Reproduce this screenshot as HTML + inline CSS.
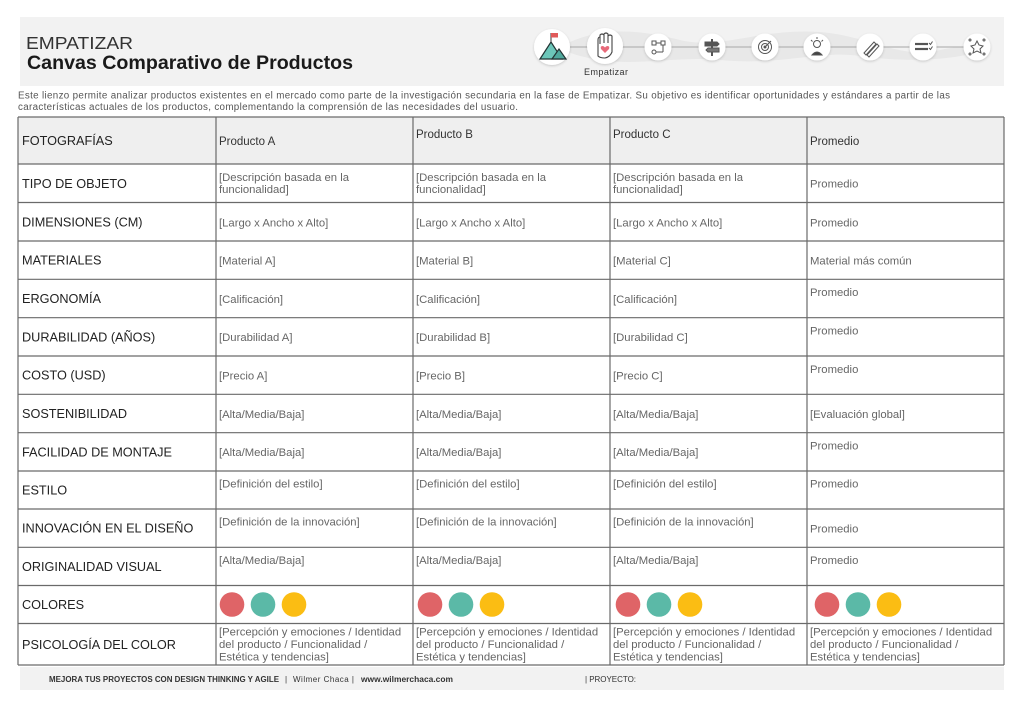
<!DOCTYPE html>
<html><head><meta charset="utf-8"><style>
html,body{margin:0;padding:0;background:#fff;}
svg{display:block;}
.lbl{font-family:"Liberation Sans",sans-serif;font-size:12.7px;fill:#222;}
.c{font-family:"Liberation Sans",sans-serif;font-size:11.3px;fill:#666;}
.h{font-family:"Liberation Sans",sans-serif;font-size:11.5px;fill:#333;}
</style></head><body>
<svg width="1024" height="707" viewBox="0 0 1024 707" xmlns="http://www.w3.org/2000/svg">
<defs>
<filter id="sh" x="-30%" y="-30%" width="160%" height="160%"><feDropShadow dx="0" dy="1" stdDeviation="1.2" flood-color="#000" flood-opacity="0.18"/></filter>
</defs>
<rect width="1024" height="707" fill="#fff"/>
<!-- header band -->
<rect x="20" y="17" width="984" height="69" fill="#f2f2f2"/>
<path d="M560 47 C600 25 640 30 680 40 C720 50 760 28 820 32 C870 36 900 60 940 50 C960 45 980 47 990 47 C960 62 900 62 860 56 C820 50 780 66 720 60 C680 56 640 66 600 60 C580 57 565 52 560 47 Z" fill="#e8e8e8"/>
<text x="26" y="49" font-family="Liberation Sans, sans-serif" font-size="17.5" fill="#333" textLength="107" lengthAdjust="spacingAndGlyphs">EMPATIZAR</text>
<text x="27" y="69" font-family="Liberation Sans, sans-serif" font-size="19.5" font-weight="bold" fill="#1a1a1a" textLength="326" lengthAdjust="spacingAndGlyphs">Canvas Comparativo de Productos</text>
<!-- icons line -->
<line x1="552" y1="47" x2="977" y2="47" stroke="#b5b5b5" stroke-width="1.3"/>
<g filter="url(#sh)" fill="#fff">
<circle cx="552" cy="47" r="18"/><circle cx="605" cy="46" r="18"/>
<circle cx="658" cy="47" r="13.5"/><circle cx="712" cy="47" r="13.5"/><circle cx="765" cy="47" r="13.5"/>
<circle cx="817" cy="47" r="13.5"/><circle cx="870" cy="47" r="13.5"/><circle cx="923" cy="47" r="13.5"/><circle cx="977" cy="47" r="13.5"/>
</g>
<!-- mountain -->
<polygon points="540,59 551,42 562,59" fill="#6cc6b9" stroke="#233" stroke-width="1.2"/>
<polygon points="552,59 559,49 566,59" fill="#4fa89c" stroke="#233" stroke-width="1.2"/>
<line x1="551" y1="42" x2="551" y2="33" stroke="#333" stroke-width="1"/>
<rect x="551" y="33" width="7" height="4.5" fill="#e05a5a"/>
<!-- hand -->
<path d="M598 56 L598 40 Q598 37 600 37 L600 44 L600 35 Q602 33 604 35 L604 43 L604 34 Q606 32 608 34 L608 43 L608 36 Q610 34 612 36 L612 52 Q610 57 605 58 Q600 58 598 56 Z" fill="#fff" stroke="#444" stroke-width="1.1"/>
<path d="M605 53 L601 49 Q600 46 602.5 46 Q604 46 605 47.5 Q606 46 607.5 46 Q610 46 609 49 Z" fill="#e86a7a"/>
<text x="584" y="75" font-family="Liberation Sans, sans-serif" font-size="9" fill="#333" textLength="44">Empatizar</text>
<!-- small icons -->
<g stroke="#555" stroke-width="1" fill="none">
<rect x="652" y="41" width="4" height="4"/><rect x="661" y="41" width="4" height="4"/><circle cx="654" cy="52" r="2"/><line x1="656" y1="43" x2="661" y2="43"/><line x1="663" y1="45" x2="663" y2="52"/><line x1="656" y1="52" x2="663" y2="52"/>
<line x1="712" y1="39" x2="712" y2="56" stroke-width="2"/><path d="M705 42 h12 l2 2 l-2 2 h-12 z" fill="#555"/><path d="M719 48 h-11 l-2 2 l2 2 h11 z" fill="#777"/>
<circle cx="765" cy="47" r="6.5"/><circle cx="765" cy="47" r="3.5"/><circle cx="765" cy="47" r="1" fill="#555"/><line x1="766" y1="46" x2="771" y2="41"/>
<circle cx="817" cy="44" r="3.5"/><path d="M812 55 q5 -6 10 0 z" fill="#444"/><line x1="817" y1="37" x2="817" y2="39"/><line x1="811" y1="40" x2="812.5" y2="41.5"/><line x1="823" y1="40" x2="821.5" y2="41.5"/>
<path d="M864 53 l10 -11 l2 2 l-10 11 z"/><path d="M867 55 l10 -11 l2 2 l-10 11 z"/>
<line x1="915" y1="44" x2="928" y2="44" stroke-width="2.2"/><line x1="915" y1="49" x2="928" y2="49" stroke-width="2.2"/><path d="M929 43 l1.5 1.5 l2 -3 M929 48 l1.5 1.5 l2 -3"/>
<path d="M977 41 l2 4 l4 1 l-3 3 l1 4 l-4 -2 l-4 2 l1 -4 l-3 -3 l4 -1 z"/><circle cx="970" cy="40" r="1"/><circle cx="984" cy="40" r="1"/><circle cx="970" cy="54" r="1"/><circle cx="984" cy="54" r="1"/>
</g>
<!-- description -->
<text x="18" y="98.5" font-family="Liberation Sans, sans-serif" font-size="9.8" fill="#555" textLength="932">Este lienzo permite analizar productos existentes en el mercado como parte de la investigación secundaria en la fase de Empatizar. Su objetivo es identificar oportunidades y estándares a partir de las</text>
<text x="18" y="110" font-family="Liberation Sans, sans-serif" font-size="9.8" fill="#555" textLength="500">características actuales de los productos, complementando la comprensión de las necesidades del usuario.</text>
<!-- table -->
<rect x="18" y="117" width="986" height="47" fill="#efefef"/>
<g stroke="#6a6a6a" stroke-width="1.2">
<line x1="18" y1="117" x2="1004" y2="117"/>
<line x1="18" y1="164" x2="1004" y2="164"/>
<line x1="18" y1="202.5" x2="1004" y2="202.5"/>
<line x1="18" y1="241" x2="1004" y2="241"/>
<line x1="18" y1="279.3" x2="1004" y2="279.3"/>
<line x1="18" y1="317.7" x2="1004" y2="317.7"/>
<line x1="18" y1="356" x2="1004" y2="356"/>
<line x1="18" y1="394.3" x2="1004" y2="394.3"/>
<line x1="18" y1="432.7" x2="1004" y2="432.7"/>
<line x1="18" y1="471" x2="1004" y2="471"/>
<line x1="18" y1="509" x2="1004" y2="509"/>
<line x1="18" y1="547.3" x2="1004" y2="547.3"/>
<line x1="18" y1="585.5" x2="1004" y2="585.5"/>
<line x1="18" y1="623.5" x2="1004" y2="623.5"/>
<line x1="18" y1="665" x2="1004" y2="665"/>
<line x1="18" y1="117" x2="18" y2="665"/>
<line x1="216" y1="117" x2="216" y2="665"/>
<line x1="413" y1="117" x2="413" y2="665"/>
<line x1="610" y1="117" x2="610" y2="665"/>
<line x1="807" y1="117" x2="807" y2="665"/>
<line x1="1004" y1="117" x2="1004" y2="665"/>
</g>
<!-- labels -->
<text class="lbl" x="22" y="145">FOTOGRAFÍAS</text>
<text class="lbl" x="22" y="188">TIPO DE OBJETO</text>
<text class="lbl" x="22" y="226.5">DIMENSIONES (CM)</text>
<text class="lbl" x="22" y="264.7">MATERIALES</text>
<text class="lbl" x="22" y="303">ERGONOMÍA</text>
<text class="lbl" x="22" y="341.3">DURABILIDAD (AÑOS)</text>
<text class="lbl" x="22" y="379.7">COSTO (USD)</text>
<text class="lbl" x="22" y="418">SOSTENIBILIDAD</text>
<text class="lbl" x="22" y="456.3">FACILIDAD DE MONTAJE</text>
<text class="lbl" x="22" y="494.5">ESTILO</text>
<text class="lbl" x="22" y="532.7">INNOVACIÓN EN EL DISEÑO</text>
<text class="lbl" x="22" y="571">ORIGINALIDAD VISUAL</text>
<text class="lbl" x="22" y="609">COLORES</text>
<text class="lbl" x="22" y="649">PSICOLOGÍA DEL COLOR</text>
<!-- header cells -->
<text class="h" x="219" y="145">Producto A</text>
<text class="h" x="416" y="138">Producto B</text>
<text class="h" x="613" y="138">Producto C</text>
<text class="h" x="810" y="145">Promedio</text>
<!-- TIPO -->
<g class="c">
<text class="c" x="219" y="181">[Descripción basada en la</text><text class="c" x="219" y="193">funcionalidad]</text>
<text class="c" x="416" y="181">[Descripción basada en la</text><text class="c" x="416" y="193">funcionalidad]</text>
<text class="c" x="613" y="181">[Descripción basada en la</text><text class="c" x="613" y="193">funcionalidad]</text>
<text class="c" x="810" y="187.5">Promedio</text>
<!-- DIM -->
<text class="c" x="219" y="226.3">[Largo x Ancho x Alto]</text>
<text class="c" x="416" y="226.3">[Largo x Ancho x Alto]</text>
<text class="c" x="613" y="226.3">[Largo x Ancho x Alto]</text>
<text class="c" x="810" y="226.3">Promedio</text>
<!-- MAT -->
<text class="c" x="219" y="264.6">[Material A]</text>
<text class="c" x="416" y="264.6">[Material B]</text>
<text class="c" x="613" y="264.6">[Material C]</text>
<text class="c" x="810" y="264.6">Material más común</text>
<!-- ERG -->
<text class="c" x="219" y="302.8">[Calificación]</text>
<text class="c" x="416" y="302.8">[Calificación]</text>
<text class="c" x="613" y="302.8">[Calificación]</text>
<text class="c" x="810" y="296">Promedio</text>
<!-- DUR -->
<text class="c" x="219" y="341.2">[Durabilidad A]</text>
<text class="c" x="416" y="341.2">[Durabilidad B]</text>
<text class="c" x="613" y="341.2">[Durabilidad C]</text>
<text class="c" x="810" y="334.4">Promedio</text>
<!-- COSTO -->
<text class="c" x="219" y="379.5">[Precio A]</text>
<text class="c" x="416" y="379.5">[Precio B]</text>
<text class="c" x="613" y="379.5">[Precio C]</text>
<text class="c" x="810" y="372.8">Promedio</text>
<!-- SOST -->
<text class="c" x="219" y="417.8">[Alta/Media/Baja]</text>
<text class="c" x="416" y="417.8">[Alta/Media/Baja]</text>
<text class="c" x="613" y="417.8">[Alta/Media/Baja]</text>
<text class="c" x="810" y="417.8">[Evaluación global]</text>
<!-- FACIL -->
<text class="c" x="219" y="456.2">[Alta/Media/Baja]</text>
<text class="c" x="416" y="456.2">[Alta/Media/Baja]</text>
<text class="c" x="613" y="456.2">[Alta/Media/Baja]</text>
<text class="c" x="810" y="449.4">Promedio</text>
<!-- ESTILO -->
<text class="c" x="219" y="487.6">[Definición del estilo]</text>
<text class="c" x="416" y="487.6">[Definición del estilo]</text>
<text class="c" x="613" y="487.6">[Definición del estilo]</text>
<text class="c" x="810" y="487.6">Promedio</text>
<!-- INNOV -->
<text class="c" x="219" y="525.7">[Definición de la innovación]</text>
<text class="c" x="416" y="525.7">[Definición de la innovación]</text>
<text class="c" x="613" y="525.7">[Definición de la innovación]</text>
<text class="c" x="810" y="532.5">Promedio</text>
<!-- ORIG -->
<text class="c" x="219" y="564">[Alta/Media/Baja]</text>
<text class="c" x="416" y="564">[Alta/Media/Baja]</text>
<text class="c" x="613" y="564">[Alta/Media/Baja]</text>
<text class="c" x="810" y="564">Promedio</text>
<!-- PSICO -->
<text class="c" x="219" y="635.5">[Percepción y emociones / Identidad</text><text class="c" x="219" y="648">del producto / Funcionalidad /</text><text class="c" x="219" y="660.5">Estética y tendencias]</text>
<text class="c" x="416" y="635.5">[Percepción y emociones / Identidad</text><text class="c" x="416" y="648">del producto / Funcionalidad /</text><text class="c" x="416" y="660.5">Estética y tendencias]</text>
<text class="c" x="613" y="635.5">[Percepción y emociones / Identidad</text><text class="c" x="613" y="648">del producto / Funcionalidad /</text><text class="c" x="613" y="660.5">Estética y tendencias]</text>
<text class="c" x="810" y="635.5">[Percepción y emociones / Identidad</text><text class="c" x="810" y="648">del producto / Funcionalidad /</text><text class="c" x="810" y="660.5">Estética y tendencias]</text>
</g>
<!-- colors -->
<g>
<circle cx="232" cy="604.5" r="12.3" fill="#df6467"/><circle cx="263" cy="604.5" r="12.3" fill="#5bb9a7"/><circle cx="294" cy="604.5" r="12.3" fill="#fbbd13"/>
<circle cx="430" cy="604.5" r="12.3" fill="#df6467"/><circle cx="461" cy="604.5" r="12.3" fill="#5bb9a7"/><circle cx="492" cy="604.5" r="12.3" fill="#fbbd13"/>
<circle cx="628" cy="604.5" r="12.3" fill="#df6467"/><circle cx="659" cy="604.5" r="12.3" fill="#5bb9a7"/><circle cx="690" cy="604.5" r="12.3" fill="#fbbd13"/>
<circle cx="827" cy="604.5" r="12.3" fill="#df6467"/><circle cx="858" cy="604.5" r="12.3" fill="#5bb9a7"/><circle cx="889" cy="604.5" r="12.3" fill="#fbbd13"/>
</g>
<!-- footer -->
<rect x="20" y="667" width="984" height="23" fill="#f2f2f2"/>
<g font-family="Liberation Sans, sans-serif" font-size="8" fill="#333">
<text x="49" y="682" font-weight="bold" textLength="230" lengthAdjust="spacingAndGlyphs">MEJORA TUS PROYECTOS CON DESIGN THINKING Y AGILE</text>
<text x="285" y="682">|</text>
<text x="293" y="682" textLength="61">Wilmer Chaca |</text>
<text x="361" y="682" font-weight="bold" textLength="92" lengthAdjust="spacingAndGlyphs">www.wilmerchaca.com</text>
<text x="585" y="682" textLength="51">| PROYECTO:</text>
</g>
</svg>
</body></html>
